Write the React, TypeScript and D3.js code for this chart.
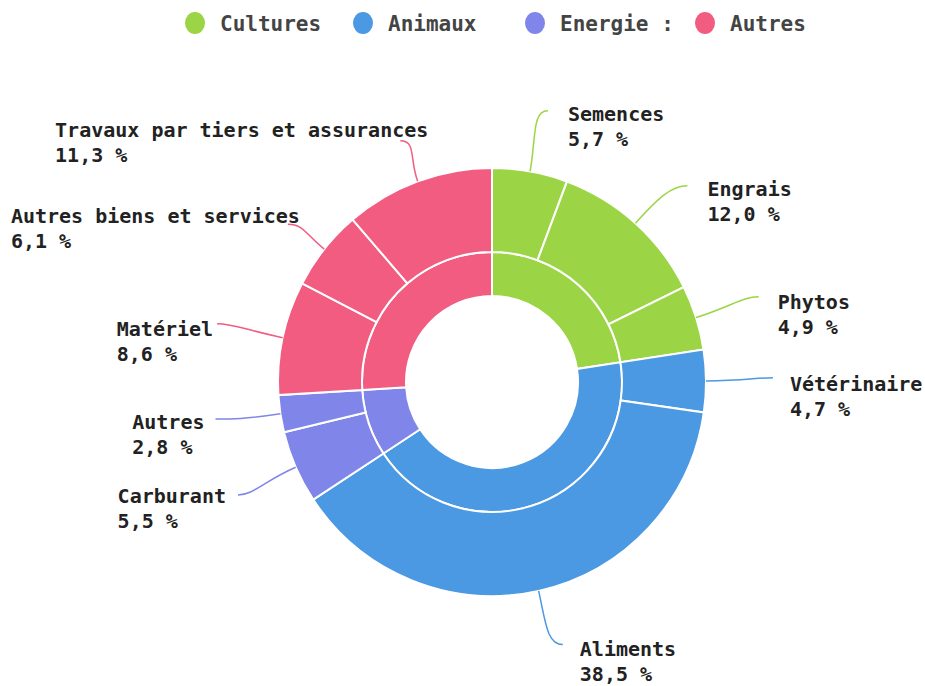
import React from 'react';
import * as d3 from 'd3';

const GROUPS = ['Cultures', 'Animaux', 'Energie', 'Autres'];
const LEGEND_LABELS = ['Cultures', 'Animaux', 'Energie :', 'Autres'];
const GROUP_COLORS = ['#9bd546', '#4b98e3', '#8085e9', '#f15c80'];

const ITEMS = [
  'Semences',
  'Engrais',
  'Phytos',
  'Vétérinaire',
  'Aliments',
  'Carburant',
  'Autres',
  'Matériel',
  'Autres biens et services',
  'Travaux par tiers et assurances',
];
const ITEM_GROUP = [0, 0, 0, 1, 1, 2, 2, 3, 3, 3];
const ITEM_VALUES = [5.7, 12.0, 4.9, 4.7, 38.5, 5.5, 2.8, 8.6, 6.1, 11.3];

// label placement tweaks (line end radius, angle nudge in degrees, text offset)
const LABEL_LINE_R = [277, 277, 280, 281, 272, 278, 279, 281, 258, 258];
const LABEL_NUDGE = [1.4, 2.8, -0.2, -0.6, -2.5, -0.5, 0.9, 0, -0.7, -0.5];
const LABEL_DX = [20, 20, 19, 17, 17, -12, -11, -4, 12, 28];
const LABEL_DY = [10, 10, 12, 13, 11, 8, 10, 12, -1, -4];

const LEGEND_X = [195, 363, 535, 705];

const W = 925;
const H = 686;
const CX = 492;
const CY = 382;
const R_HOLE = 86;
const R_MID = 130;
const R_OUT = 214;

const FONT = "'DejaVu Sans Mono', monospace";
const LABEL_SIZE = 20;
const CHAR_W = LABEL_SIZE * 0.602;

const fr = d3.formatLocale({ decimal: ',', thousands: ' ', grouping: [3], currency: ['', ' €'] });
const fmt = fr.format('.1f');

function polar(a: number, r: number): [number, number] {
  return [CX + r * Math.sin(a), CY - r * Math.cos(a)];
}

export default function App() {
  const groupValues = GROUPS.map((_, gi) =>
    d3.sum(ITEM_VALUES.filter((_, i) => ITEM_GROUP[i] === gi))
  );

  const pie = d3.pie<number>().sort(null).value((d) => d).startAngle(0).endAngle(2 * Math.PI);
  const innerArcs = pie(groupValues);
  const outerArcs = pie(ITEM_VALUES);

  const innerArc = d3.arc<d3.PieArcDatum<number>>().innerRadius(R_HOLE).outerRadius(R_MID);
  const outerArc = d3.arc<d3.PieArcDatum<number>>().innerRadius(R_MID).outerRadius(R_OUT);

  const labels = outerArcs.map((a, i) => {
    const mid = (a.startAngle + a.endAngle) / 2;
    const endA = mid + (LABEL_NUDGE[i] * Math.PI) / 180;
    const rEnd = LABEL_LINE_R[i];
    const p0 = polar(mid, R_OUT);
    const c1 = polar(mid, R_OUT + (rEnd - R_OUT) * 0.55);
    const end = polar(endA, rEnd);
    const right = end[0] > CX;
    const sign = right ? 1 : -1;
    const c2: [number, number] = [end[0] - sign * 16, end[1]];
    const path = d3.path();
    path.moveTo(p0[0], p0[1]);
    path.bezierCurveTo(c1[0], c1[1], c2[0], c2[1], end[0], end[1]);
    const pct = `${fmt(ITEM_VALUES[i])} %`;
    const blockW = Math.max(ITEMS[i].length, pct.length) * CHAR_W;
    const tx = right ? end[0] + LABEL_DX[i] : end[0] + LABEL_DX[i] - blockW;
    const ty = end[1] + LABEL_DY[i];
    return { path: path.toString(), color: GROUP_COLORS[ITEM_GROUP[i]], tx, ty, name: ITEMS[i], pct };
  });

  return (
    <svg
      width={W}
      height={H}
      style={{ position: 'absolute', left: 0, top: 0, background: '#fff' }}
      fontFamily={FONT}
    >
      {/* legend */}
      <g>
        {LEGEND_LABELS.map((l, i) => (
          <g key={l}>
            <ellipse cx={LEGEND_X[i]} cy={23} rx={10} ry={11} fill={GROUP_COLORS[i]} />
            <text x={LEGEND_X[i] + 25} y={31} fontSize={21} fontWeight="bold" fill="#444">
              {l}
            </text>
          </g>
        ))}
      </g>

      {/* rings */}
      <g transform={`translate(${CX},${CY})`}>
        {innerArcs.map((a, i) => (
          <path key={`in${i}`} d={innerArc(a) || ''} fill={GROUP_COLORS[i]} stroke="#fff" strokeWidth={2} />
        ))}
        {outerArcs.map((a, i) => (
          <path
            key={`out${i}`}
            d={outerArc(a) || ''}
            fill={GROUP_COLORS[ITEM_GROUP[i]]}
            stroke="#fff"
            strokeWidth={2}
          />
        ))}
      </g>

      {/* leader lines + labels */}
      {labels.map((l, i) => (
        <g key={`lab${i}`}>
          <path d={l.path} fill="none" stroke={l.color} strokeWidth={1.5} />
          <text x={l.tx} y={l.ty} fontSize={LABEL_SIZE} fontWeight="bold" fill="#222">
            <tspan x={l.tx}>{l.name}</tspan>
            <tspan x={l.tx} dy={25}>
              {l.pct}
            </tspan>
          </text>
        </g>
      ))}
    </svg>
  );
}
